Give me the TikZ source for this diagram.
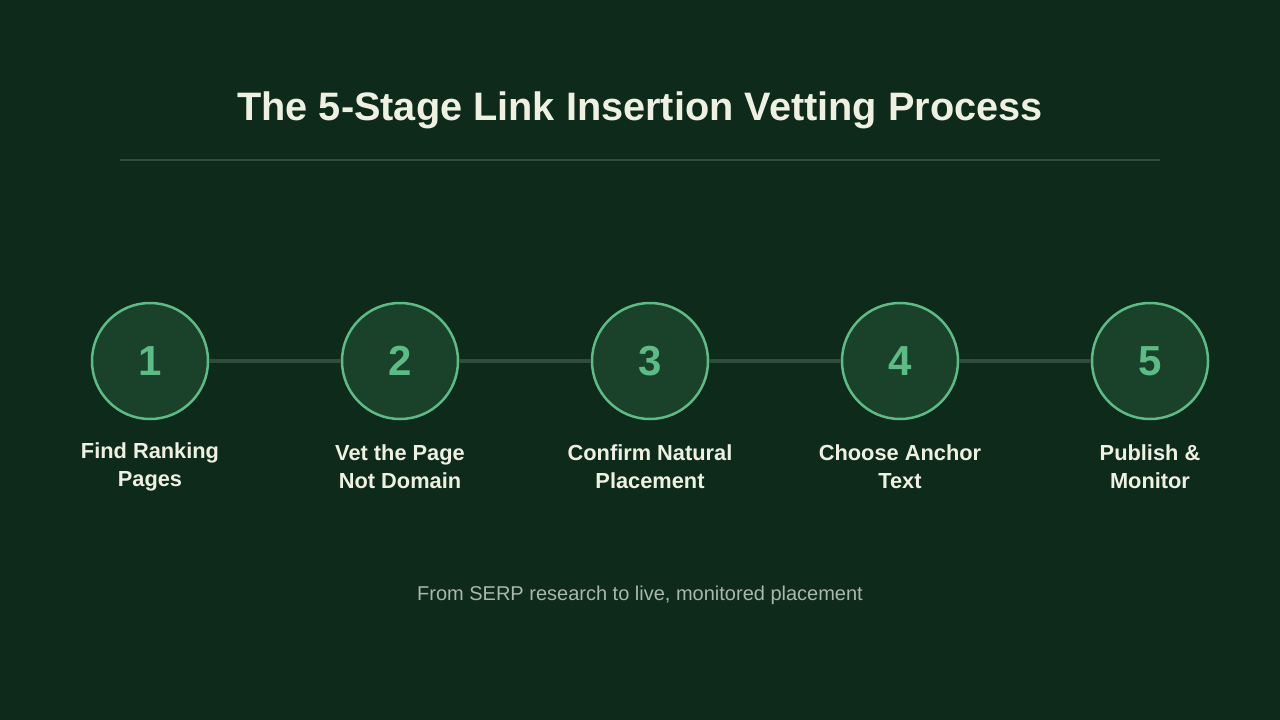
\documentclass[tikz,border=0pt]{standalone}
\usepackage{fontspec}
\setmainfont{Liberation Sans}
\definecolor{bg}{HTML}{0E2A1B}
\definecolor{cfill}{HTML}{1A4129}
\definecolor{cstroke}{HTML}{5DBB86}
\definecolor{txt}{HTML}{EEF0E2}
\definecolor{rule}{HTML}{2E4D3A}
\definecolor{sub}{HTML}{A9B8AA}
\begin{document}
\begin{tikzpicture}[x=1pt,y=-1pt,
  stage/.style={circle,draw=cstroke,line width=2.5pt,fill=cfill,minimum size=116pt,inner sep=0pt,text=cstroke,font=\fontsize{42}{42}\selectfont\bfseries},
  lab/.style={text=txt,font=\fontsize{21.8}{28}\selectfont\bfseries,align=center},
  conn/.style={draw=rule,line width=3.5pt}]
\fill[bg] (0,0) rectangle (1280,720);
\useasboundingbox (0,0) rectangle (1280,720);
\node[text=txt,font=\fontsize{39.7}{40}\selectfont\bfseries] (title) at (640,110) {The 5-Stage Link Insertion Vetting Process};
\coordinate (r1) at (120,160); \coordinate (r2) at (1160,160);
\draw[rule,line width=1.2pt] (r1) -- (r2);
\foreach \i/\x/\t in {1/150/{Find Ranking\\Pages},2/400/{Vet the Page\\Not Domain},3/650/{Confirm Natural\\Placement},4/900/{Choose Anchor\\Text},5/1150/{Publish \&\\Monitor}}{
  \node[stage] (s\i) at (\x,361) {\i};
  \node[lab] (l\i) at (\x,467) {\t};
}
\foreach \a/\b in {1/2,2/3,3/4,4/5}{\draw[conn] (s\a) -- (s\b);}
\node[text=sub,font=\fontsize{20}{20}\selectfont] (foot) at (640,595) {From SERP research to live, monitored placement};
\end{tikzpicture}
\end{document}
